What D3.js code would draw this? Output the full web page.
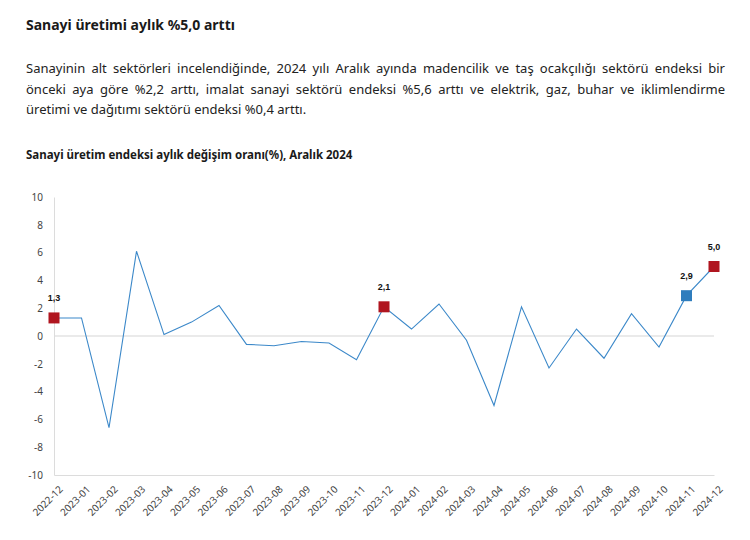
<!DOCTYPE html>
<html><head><meta charset="utf-8">
<script src="https://cdn.jsdelivr.net/npm/d3@7"></script>
<style>
body{margin:0;background:#fff;font-family:"Noto Sans","Open Sans",sans-serif;color:#222;}
#wrap{position:relative;width:750px;height:540px;overflow:hidden;}
#h1{position:absolute;left:26px;top:15px;font-size:14px;font-weight:bold;color:#1a1a1a;}
#para{position:absolute;left:26px;top:58px;width:699px;font-size:13px;line-height:20.5px;color:#222;}
#para div.j{text-align:justify;text-align-last:justify;}
svg{position:absolute;left:0;top:0;}
</style></head>
<body><div id="wrap">
<div id="h1">Sanayi üretimi aylık %5,0 arttı</div>
<div id="para">
<div class="j">Sanayinin alt sektörleri incelendiğinde, 2024 yılı Aralık ayında madencilik ve taş ocakçılığı sektörü endeksi bir</div>
<div class="j">önceki aya göre %2,2 arttı, imalat sanayi sektörü endeksi %5,6 arttı ve elektrik, gaz, buhar ve iklimlendirme</div>
<div>üretimi ve dağıtımı sektörü endeksi %0,4 arttı.</div>
</div>
<svg id="chart" width="750" height="540"></svg>
</div>
<script>
const chartTitle = "Sanayi üretim endeksi aylık değişim oranı(%), Aralık 2024";
const months = ["2022-12","2023-01","2023-02","2023-03","2023-04","2023-05","2023-06","2023-07","2023-08","2023-09","2023-10","2023-11","2023-12","2024-01","2024-02","2024-03","2024-04","2024-05","2024-06","2024-07","2024-08","2024-09","2024-10","2024-11","2024-12"];
const values = [1.3,1.3,-6.6,6.1,0.1,1.0,2.2,-0.6,-0.7,-0.4,-0.5,-1.7,2.1,0.5,2.3,-0.3,-5.0,2.1,-2.3,0.5,-1.6,1.6,-0.8,2.9,5.0];
const highlightMonths = ["2022-12","2023-12","2024-11","2024-12"];
const highlightColors = ["#b0151f","#b0151f","#2f7dbd","#b0151f"];
const yTicks = [-10,-8,-6,-4,-2,0,2,4,6,8,10];

const svg = d3.select("#chart");
const m = {left:54, right:36, top:197, bottom:65};
const W = 750, H = 540;
const x = d3.scalePoint().domain(months).range([m.left, W - m.right]);
const y = d3.scaleLinear().domain([-10,10]).range([H - m.bottom, m.top]);

svg.append("text").attr("x",26).attr("y",159).attr("font-size",11.5).attr("font-weight","bold")
  .attr("fill","#1a1a1a").text(chartTitle);

// zero gridline
svg.append("line").attr("x1",m.left).attr("x2",W-m.right).attr("y1",y(0)).attr("y2",y(0))
  .attr("stroke","#e3e3e3").attr("stroke-width",1.5);

// y axis
const ya = svg.append("g").attr("transform",`translate(${m.left},0)`)
  .call(d3.axisLeft(y).tickValues(yTicks).tickSize(0).tickPadding(11).tickFormat(d=>d));
ya.select(".domain").attr("stroke","#dcdcdc");
ya.selectAll("text").attr("font-size",10).attr("fill","#444").attr("font-family","Noto Sans, sans-serif");

// x axis
const xa = svg.append("g").attr("transform",`translate(0,${y(-10)})`)
  .call(d3.axisBottom(x).tickSize(0).tickPadding(0));
xa.select(".domain").attr("stroke","#dcdcdc");
xa.selectAll("text").attr("font-size",10).attr("fill","#444").attr("font-family","Noto Sans, sans-serif")
  .attr("text-anchor","end").attr("dy",0)
  .attr("transform","translate(9,15) rotate(-45)");

// line
const data = months.map((mo,i)=>({m:mo,v:values[i]}));
svg.append("path").datum(data)
  .attr("fill","none").attr("stroke","#3b88c9").attr("stroke-width",1.1)
  .attr("d", d3.line().x(d=>x(d.m)).y(d=>y(d.v)));

// highlighted markers
const hl = highlightMonths.map((mo,i)=>({m:mo,v:values[months.indexOf(mo)],c:highlightColors[i]}));
const s = 11;
svg.selectAll("rect.mk").data(hl).join("rect").attr("class","mk")
  .attr("x",d=>x(d.m)-s/2).attr("y",d=>y(d.v)-s/2).attr("width",s).attr("height",s)
  .attr("fill",d=>d.c);
svg.selectAll("text.lb").data(hl).join("text").attr("class","lb")
  .attr("x",d=>x(d.m)).attr("y",d=>y(d.v)-17).attr("text-anchor","middle")
  .attr("font-size",9).attr("font-weight","bold").attr("fill","#111")
  .attr("font-family","Liberation Sans, Arial, sans-serif")
  .text(d=>d3.format(".1f")(d.v).replace(".",","));
</script>
</body></html>
